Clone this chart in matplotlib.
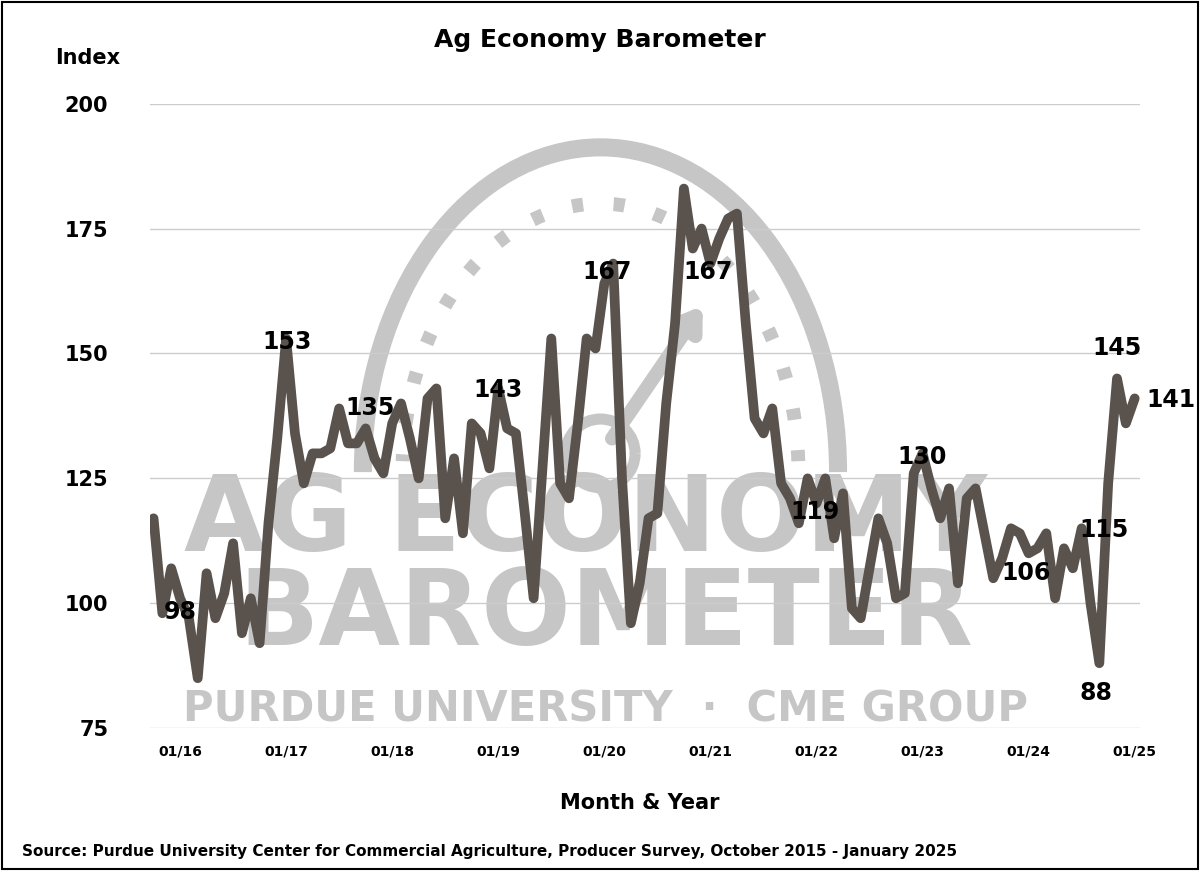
import matplotlib
matplotlib.use("Agg")
import matplotlib.pyplot as plt
from matplotlib.patches import Arc, Rectangle
import numpy as np

values = [117, 98, 107, 101, 97, 85, 106, 97, 102, 112, 94, 101, 92, 116, 133, 153,
          134, 124, 130, 130, 131, 139, 132, 132, 135, 129, 126, 136, 140, 133, 125, 141,
          143, 117, 129, 114, 136, 134, 127, 143, 135, 134, 118, 101, 127, 153, 124, 121,
          136, 153, 151, 164, 168, 125, 96, 104, 117, 118, 140, 156, 183, 171, 175, 168,
          173, 177, 178, 156, 137, 134, 139, 124, 121, 116, 125, 120, 125, 113, 122, 99,
          97, 107, 117, 112, 101, 102, 126, 130, 123, 117, 123, 104, 121, 123, 114, 105,
          109, 115, 114, 110, 111, 114, 101, 111, 107, 115, 100, 88, 124, 145, 136, 141]
tick_labels = ["01/16", "01/17", "01/18", "01/19", "01/20", "01/21", "01/22", "01/23", "01/24", "01/25"]
tick_months = [3, 15, 27, 39, 51, 63, 75, 87, 99, 111]
label_texts = ["98", "153", "135", "143", "167", "167", "119", "130", "106", "88", "115", "145", "141"]
label_px = [(180, 612), (287, 342), (370, 408), (498, 390), (607, 272), (708, 272), (815, 512),
            (922, 457), (1027, 573), (1097, 693), (1105, 530), (1118, 348), (1172, 400)]

fig = plt.figure(figsize=(12, 8.71), dpi=100)
ax = fig.add_axes([0.125, 0.164, 0.825, 0.717])
x = np.arange(len(values))
ax.set_xlim(-0.4, 111.6)
ax.set_ylim(75, 200)
ax.set_yticks([75, 100, 125, 150, 175, 200])
ax.grid(axis="y", color="#cccccc", lw=1)
ax.set_axisbelow(True)
for s in ax.spines.values():
    s.set_visible(False)
ax.tick_params(length=0)
ax.set_xticks(tick_months)
ax.set_xticklabels(tick_labels, fontsize=10, fontweight="bold")
ax.tick_params(axis="x", pad=12)
ax.tick_params(axis="y", pad=30)
for t in ax.get_yticklabels():
    t.set_fontsize(15); t.set_fontweight("bold")

# watermark
wm = "#c6c6c6"
cx, cy = 0.455, 0.41
ax.add_patch(Arc((cx, cy), 0.48, 1.04, theta1=0, theta2=180, transform=ax.transAxes,
                 color=wm, lw=13, zorder=0))
ax.add_patch(Arc((cx, cy), 0.40, 0.86, theta1=5, theta2=175, transform=ax.transAxes,
                 color=wm, lw=10, ls=(0, (0.8, 2.2)), zorder=0))
ax.add_patch(Arc((cx, cy + 0.03), 0.07, 0.11, theta1=0, theta2=360, transform=ax.transAxes,
                 color=wm, lw=8, zorder=0))
ax.annotate("", xy=(0.56, 0.68), xytext=(0.465, 0.46), xycoords="axes fraction",
            arrowprops=dict(arrowstyle="-|>,head_length=1.2,head_width=0.8", color=wm, lw=10), zorder=0)
ax.text(0.44, 0.33, "AG ECONOMY", transform=ax.transAxes, fontsize=76, fontweight="bold",
        color=wm, ha="center", va="center", zorder=0)
ax.text(0.46, 0.18, "BAROMETER", transform=ax.transAxes, fontsize=76, fontweight="bold",
        color=wm, ha="center", va="center", zorder=0)
ax.text(0.46, 0.03, "PURDUE UNIVERSITY  ·  CME GROUP", transform=ax.transAxes, fontsize=30,
        fontweight="bold", color=wm, ha="center", va="center", zorder=0)

ax.plot(x, values, color="#5a524d", lw=7, solid_joinstyle="round", solid_capstyle="round", zorder=3)

for txt, (px, py) in zip(label_texts, label_px):
    ax.text((px - 153) / 8.85, 200 - (py - 104) / 4.99, txt, fontsize=17, fontweight="bold",
            ha="center", va="center", zorder=4, clip_on=False)

fig.text(0.5, 1 - 40 / 871, "Ag Economy Barometer", fontsize=18, fontweight="bold", ha="center", va="center")
fig.text(88 / 1200, 1 - 58 / 871, "Index", fontsize=15, fontweight="bold", ha="center", va="center")
fig.text(640 / 1200, 1 - 803 / 871, "Month & Year", fontsize=15, fontweight="bold", ha="center", va="center")
fig.text(22 / 1200, 1 - 851 / 871, "Source: Purdue University Center for Commercial Agriculture, Producer Survey, October 2015 - January 2025",
         fontsize=11, fontweight="bold", ha="left", va="center")
fig.add_artist(Rectangle((0.002, 0.002), 0.996, 0.996, transform=fig.transFigure, fill=False, ec="black", lw=1.5))
fig.savefig("out.png", dpi=100)
